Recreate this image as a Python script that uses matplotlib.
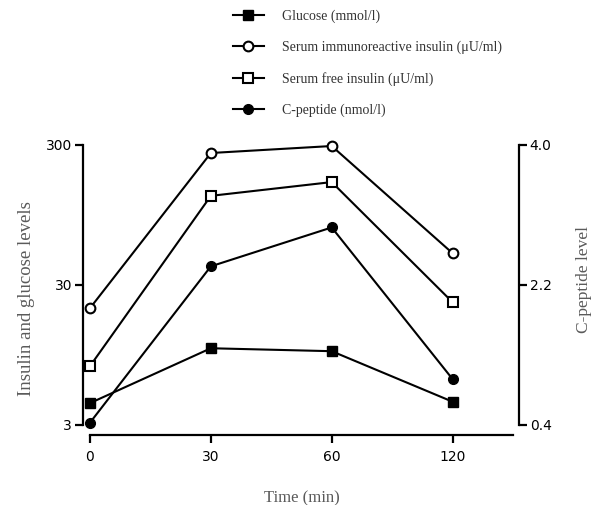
import matplotlib
matplotlib.use("Agg")
import matplotlib.pyplot as plt
from matplotlib.lines import Line2D
from matplotlib.ticker import FixedLocator, FixedFormatter, NullLocator

# data
times = ["0", "30", "60", "120"]
glucose = [4.3, 10.6, 10.1, 4.4]
iri = [20.5, 263, 295, 50.6]
free_insulin = [7.9, 130, 163, 22.6]
c_peptide = [0.43, 2.44, 2.94, 0.99]

labels = ["Glucose (mmol/l)",
          "Serum immunoreactive insulin (\u03bcU/ml)",
          "Serum free insulin (\u03bcU/ml)",
          "C-peptide (nmol/l)"]

tick_font = {"family": "Liberation Sans", "weight": "bold", "size": 10}
label_color = "#5a5a5a"

fig = plt.figure(figsize=(5.94, 5.05), dpi=100)
ax = fig.add_axes([90 / 594, 80 / 505, 423 / 594, 280 / 505])
ax2 = ax.twinx()

x = list(range(len(times)))
lw = 1.5
ms = 7

ax.plot(x, glucose, "-s", color="black", lw=lw, ms=ms, mfc="black", clip_on=False, zorder=3)
ax.plot(x, iri, "-o", color="black", lw=lw, ms=ms, mfc="white", mew=1.5, clip_on=False, zorder=3)
ax.plot(x, free_insulin, "-s", color="black", lw=lw, ms=ms, mfc="white", mew=1.5, clip_on=False, zorder=3)
ax2.plot(x, c_peptide, "-o", color="black", lw=lw, ms=ms, mfc="black", clip_on=False, zorder=3)

ax.set_yscale("log")
ax.set_ylim(3, 300)
ax.set_xlim(0, 3.5)
ax2.set_ylim(0.4, 4.0)

ax.yaxis.set_major_locator(FixedLocator([3, 30, 300]))
ax.yaxis.set_major_formatter(FixedFormatter(["3", "30", "300"]))
ax.yaxis.set_minor_locator(NullLocator())
ax.set_xticks(x)
ax.set_xticklabels(times)
ax2.set_yticks([0.4, 2.2, 4.0])
ax2.set_yticklabels(["0.4", "2.2", "4.0"])

for a in (ax, ax2):
    for s in a.spines.values():
        s.set_linewidth(1.6)
    a.spines["top"].set_visible(False)
    a.tick_params(width=1.6, length=6, pad=2)
    for lab in a.get_xticklabels() + a.get_yticklabels():
        lab.set_fontproperties(matplotlib.font_manager.FontProperties(**tick_font))
        lab.set_color("#222222")

ax.spines["right"].set_visible(False)
ax.spines["left"].set_position(("outward", 5))
ax.spines["bottom"].set_position(("outward", 7))
ax2.spines["left"].set_visible(False)
ax2.spines["bottom"].set_visible(False)
ax2.spines["right"].set_position(("outward", 4))
ax.tick_params(axis="x", pad=5)

ax.set_ylabel("Insulin and glucose levels", family="Liberation Serif", size=13.5,
              color=label_color)
ax.yaxis.set_label_coords(-0.130, 0.45)
ax2.set_ylabel("C-peptide level", family="Liberation Serif", size=12.5,
               color=label_color)
ax2.yaxis.set_label_coords(1.149, 0.52)
ax.set_xlabel("Time (min)", family="Liberation Serif", size=12,
              color=label_color, labelpad=19)

handles = [
    Line2D([], [], color="black", lw=lw, marker="s", ms=ms, mfc="black"),
    Line2D([], [], color="black", lw=lw, marker="o", ms=ms, mfc="white", mew=1.5),
    Line2D([], [], color="black", lw=lw, marker="s", ms=ms, mfc="white", mew=1.5),
    Line2D([], [], color="black", lw=lw, marker="o", ms=ms, mfc="black"),
]
leg = fig.legend(handles, labels, loc="upper left", bbox_to_anchor=(220 / 594, 1 + 3 / 505),
                 frameon=False, handlelength=2.3, handletextpad=1.3, labelspacing=1.27,
                 prop={"family": "Liberation Serif", "size": 10})
for t in leg.get_texts():
    t.set_color("#333333")

fig.savefig("out.png", dpi=100)
